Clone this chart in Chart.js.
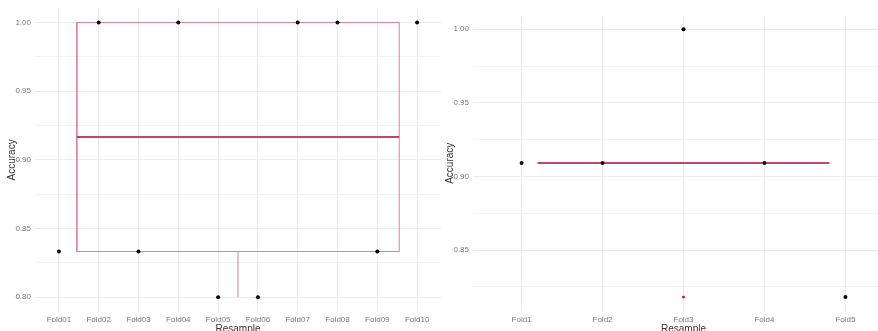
<!DOCTYPE html>
<html>
<head>
<meta charset="utf-8">
<script src="https://cdn.jsdelivr.net/npm/chart.js@4.4.1/dist/chart.umd.min.js"></script>
<style>
    html, body { margin: 0; padding: 0; background: #ffffff; }
    #wrap { position: relative; width: 878px; height: 331px; overflow: hidden; }
    #leftChart { position: absolute; left: 0; top: 0; }
    #rightChart { position: absolute; left: 438px; top: 0; }
</style>
</head>
<body>
<div id="wrap">
    <canvas id="leftChart" width="445" height="340"></canvas>
    <canvas id="rightChart" width="460" height="340"></canvas>
</div>
<script>
// left panel: 10-fold resamples
const leftFolds = ['Fold01', 'Fold02', 'Fold03', 'Fold04', 'Fold05', 'Fold06', 'Fold07', 'Fold08', 'Fold09', 'Fold10'];
const leftAccuracy = [0.8333, 1.0, 0.8333, 1.0, 0.8, 0.8, 1.0, 1.0, 0.8333, 1.0];
// whisker low, q1, median, q3, whisker high
const leftBoxStats = [0.8, 0.8333, 0.9167, 1.0, 1.0];
const leftOutliers = [];
const leftYTicks = [0.8, 0.825, 0.85, 0.875, 0.9, 0.925, 0.95, 0.975, 1.0];

// right panel: 5-fold resamples
const rightFolds = ['Fold1', 'Fold2', 'Fold3', 'Fold4', 'Fold5'];
const rightAccuracy = [0.9091, 0.9091, 1.0, 0.9091, 0.8182];
const rightBoxStats = [0.9091, 0.9091, 0.9091, 0.9091, 0.9091];
const rightOutliers = [0.8182, 1.0];
const rightYTicks = [0.825, 0.85, 0.875, 0.9, 0.925, 0.95, 0.975, 1.0];

const boxColor = '#da7fa3';
const medianColor = '#cc3f74';
const gridMajor = '#ebebeb';
const gridMinor = '#f3f3f3';
const fontFamily = '"Liberation Sans", Arial, sans-serif';

const isMajor = (v) => Math.abs(v * 20 - Math.round(v * 20)) < 1e-6;

const makePanel = (elementId, folds, accuracy, stats, outliers, yTicks, yMin, yMax, top, xHeight) => {
    const n = folds.length;
    const c = (n + 1) / 2;
    const hw = 0.45 * (n - 1);

    const outline = [
        { x: c - hw, y: stats[1] }, { x: c + hw, y: stats[1] },
        { x: c + hw, y: stats[3] }, { x: c - hw, y: stats[3] },
        { x: c - hw, y: stats[1] },
    ];
    const median = [{ x: c - hw, y: stats[2] }, { x: c + hw, y: stats[2] }];
    const lowWhisker = [{ x: c, y: stats[0] }, { x: c, y: stats[1] }];
    const highWhisker = [{ x: c, y: stats[3] }, { x: c, y: stats[4] }];
    const points = accuracy.map((v, i) => ({ x: i + 1, y: v }));
    const outlierPoints = outliers.map((v) => ({ x: c, y: v }));

    const lineSet = (data, color, width, order) => ({
        data: data,
        showLine: true,
        borderColor: color,
        borderWidth: width,
        pointRadius: 0,
        fill: false,
        order: order,
    });

    new Chart(document.getElementById(elementId).getContext('2d'), {
        type: 'scatter',
        data: {
            datasets: [
                {
                    data: points,
                    backgroundColor: '#000000',
                    borderColor: '#000000',
                    pointRadius: 2,
                    borderWidth: 0,
                    order: 0,
                },
                {
                    data: outlierPoints,
                    backgroundColor: '#c2185b',
                    borderColor: '#c2185b',
                    pointRadius: 1.5,
                    borderWidth: 0,
                    order: 1,
                },
                lineSet(median, medianColor, 2, 2),
                lineSet(outline, boxColor, 1, 3),
                lineSet(lowWhisker, boxColor, 1, 3),
                lineSet(highWhisker, boxColor, 1, 3),
            ],
        },
        options: {
            responsive: false,
            animation: false,
            devicePixelRatio: 1,
            layout: { padding: { top: top, right: 0, bottom: 0, left: 0 } },
            plugins: {
                legend: { display: false },
                tooltip: { enabled: false },
            },
            scales: {
                x: {
                    type: 'linear',
                    min: 0.4,
                    max: n + 0.6,
                    afterBuildTicks: (scale) => {
                        scale.ticks = folds.map((f, i) => ({ value: i + 1 }));
                    },
                    afterFit: (scale) => { scale.height = xHeight; },
                    ticks: {
                        autoSkip: false,
                        maxRotation: 0,
                        padding: 4,
                        color: '#7a7a7a',
                        font: { family: fontFamily, size: 8 },
                        callback: (value) => folds[Math.round(value) - 1] || '',
                    },
                    grid: { color: gridMajor, lineWidth: 1, drawTicks: false },
                    border: { display: false },
                    title: {
                        display: true,
                        text: 'Resample',
                        color: '#333333',
                        font: { family: fontFamily, size: 10 },
                        padding: { top: 0, bottom: 5 },
                    },
                },
                y: {
                    type: 'linear',
                    min: yMin,
                    max: yMax,
                    afterBuildTicks: (scale) => {
                        scale.ticks = yTicks.map((v) => ({ value: v }));
                    },
                    afterFit: (scale) => { scale.width = 35; },
                    ticks: {
                        autoSkip: false,
                        padding: 4,
                        color: '#7a7a7a',
                        font: { family: fontFamily, size: 8 },
                        callback: (value) => (isMajor(value) ? value.toFixed(2) : ''),
                    },
                    grid: {
                        drawTicks: false,
                        color: (ctx) => (isMajor(ctx.tick.value) ? gridMajor : gridMinor),
                        lineWidth: 1,
                    },
                    border: { display: false },
                    title: {
                        display: true,
                        text: 'Accuracy',
                        color: '#333333',
                        font: { family: fontFamily, size: 10 },
                        padding: { top: 6, bottom: 0 },
                    },
                },
            },
        },
    });
};

makePanel('leftChart', leftFolds, leftAccuracy, leftBoxStats, leftOutliers, leftYTicks, 0.79, 1.01, 7, 29);
makePanel('rightChart', rightFolds, rightAccuracy, rightBoxStats, rightOutliers, rightYTicks, 0.809, 1.009, 16, 29.5);
</script>
</body>
</html>
